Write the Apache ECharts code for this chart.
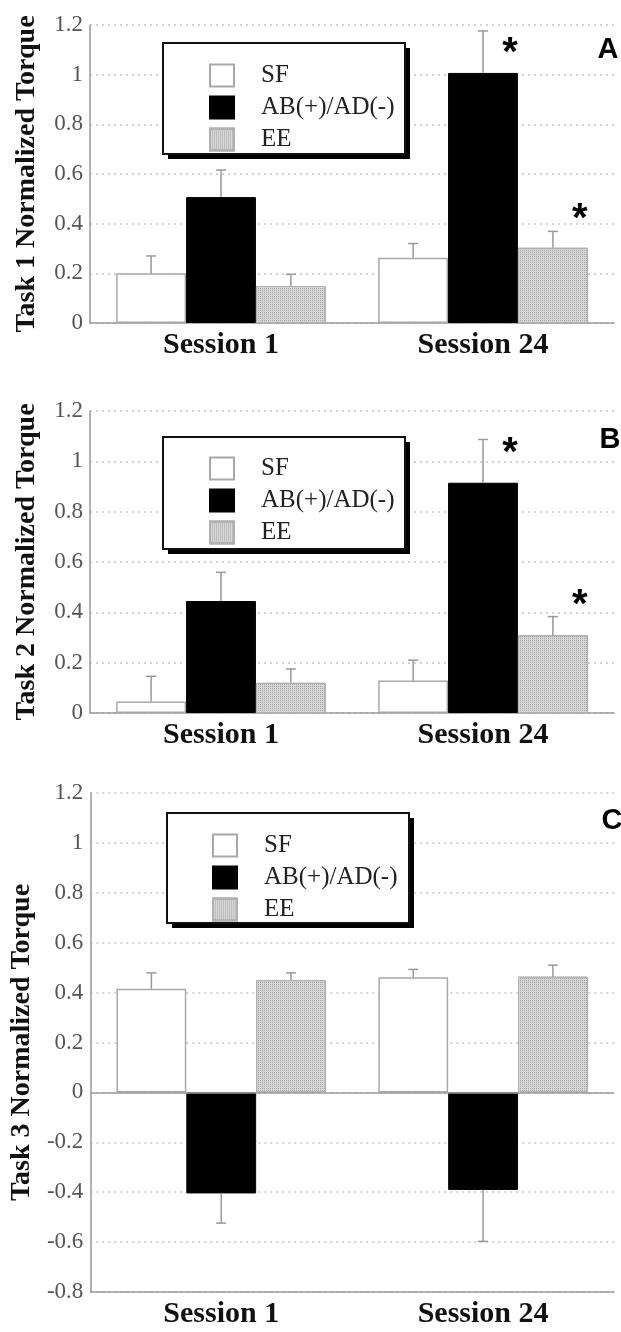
<!DOCTYPE html>
<html>
<head>
<meta charset="utf-8">
<script src="https://cdn.jsdelivr.net/npm/echarts@6/dist/echarts.min.js"></script>
<style>html,body{margin:0;padding:0;background:#fff}#chart{width:621px;height:1332px}</style>
</head>
<body>
<div id="chart"></div>
<script>
// ---------- data ----------
const categories = ['Session 1', 'Session 24'];
const seriesNames = ['SF', 'AB(+)/AD(-)', 'EE'];
const panelLetters = ['A', 'B', 'C'];
const axisTitles = ['Task 1 Normalized Torque', 'Task 2 Normalized Torque', 'Task 3 Normalized Torque'];

const task1SF = [0.20, 0.263];
const task1AB = [0.507, 1.007];
const task1EE = [0.149, 0.303];
const task1SFErr = [0.07, 0.057];
const task1ABErr = [0.109, 0.169];
const task1EEErr = [0.047, 0.066];
const task1Stars = [[1, 1, 1.12], [1, 2, 0.452]]; // [category, group, value]

const task2SF = [0.046, 0.129];
const task2AB = [0.445, 0.915];
const task2EE = [0.12, 0.309];
const task2SFErr = [0.10, 0.081];
const task2ABErr = [0.114, 0.172];
const task2EEErr = [0.055, 0.074];
const task2Stars = [[1, 1, 1.065], [1, 2, 0.461]];

const task3SF = [0.415, 0.462];
const task3AB = [-0.405, -0.391];
const task3EE = [0.45, 0.464];
const task3SFErr = [0.064, 0.031];
const task3ABErr = [0.119, 0.206];
const task3EEErr = [0.029, 0.046];
const task3Stars = [];

const yMin = [0, 0, -0.8];
const yMax = [1.2, 1.2, 1.2];
const yStep = 0.2;

// ---------- layout / style ----------
const panels = [
  {vals: [task1SF, task1AB, task1EE], errs: [task1SFErr, task1ABErr, task1EEErr], stars: task1Stars,
   top: 25, height: 298, legendBox: [163, 43, 242, 111], legendPos: [204, 58], letter: [608, 50]},
  {vals: [task2SF, task2AB, task2EE], errs: [task2SFErr, task2ABErr, task2EEErr], stars: task2Stars,
   top: 411, height: 302, legendBox: [163, 437, 242, 112], legendPos: [204, 451], letter: [610, 440]},
  {vals: [task3SF, task3AB, task3EE], errs: [task3SFErr, task3ABErr, task3EEErr], stars: task3Stars,
   top: 793, height: 499, legendBox: [167, 813, 242, 110], legendPos: [207, 828], letter: [612, 821]}
];

const SERIF = '"Liberation Serif", "DejaVu Serif", serif';
const SANS = '"Liberation Sans", Arial, sans-serif';
const GREY = '#9a9a9a';
const styles = [
  {color: '#ffffff', borderColor: '#a8a8a8', borderWidth: 1.5},
  {color: '#000000', borderColor: '#000000', borderWidth: 1},
  {color: '#d6d6d6', borderColor: '#b0b0b0', borderWidth: 1,
   decal: {symbol: 'rect', symbolSize: 1, color: 'rgba(0,0,0,0.22)', dashArrayX: [1, 1], dashArrayY: [1, 1]}}
];
const CAT_GAP = 0.2;

const grid = [], xAxis = [], yAxis = [], series = [], legend = [], graphic = [];

panels.forEach((p, i) => {
  grid.push({left: 90, right: 7, top: p.top, height: p.height});
  xAxis.push({
    type: 'category', gridIndex: i, data: categories,
    axisLine: {onZero: false, lineStyle: {color: GREY, width: 1.5}},
    axisTick: {show: false},
    axisLabel: {fontFamily: SERIF, fontWeight: 'bold', fontSize: 30, color: '#111', margin: 7},
    splitLine: {show: false}
  });
  yAxis.push({
    type: 'value', gridIndex: i, min: yMin[i], max: yMax[i], interval: yStep,
    name: axisTitles[i], nameLocation: 'middle', nameRotate: 90, nameGap: 49,
    nameTextStyle: {fontFamily: SERIF, fontWeight: 'bold', fontSize: 28, color: '#111'},
    axisLine: {show: true, lineStyle: {color: GREY, width: 1.5}},
    axisTick: {show: false},
    axisLabel: {fontFamily: SERIF, fontSize: 23, color: '#555', margin: 7},
    splitLine: {show: true, lineStyle: {color: '#c4c4c4', type: [2, 4], width: 1.5}}
  });
  seriesNames.forEach((name, s) => {
    const ser = {
      type: 'bar', name: name, xAxisIndex: i, yAxisIndex: i,
      data: p.vals[s], barGap: '0%', barCategoryGap: (CAT_GAP * 100) + '%',
      itemStyle: styles[s], emphasis: {disabled: true}, animation: false, z: 2
    };
    if (i === 2 && s === 0) {
      ser.markLine = {silent: true, symbol: 'none', label: {show: false},
        lineStyle: {color: GREY, type: 'solid', width: 1.5}, data: [{yAxis: 0}], animation: false};
    }
    series.push(ser);
  });
  // error bars
  const errData = [];
  p.vals.forEach((arr, s) => arr.forEach((v, c) => errData.push([c, s, v, p.errs[s][c]])));
  series.push({
    type: 'custom', xAxisIndex: i, yAxisIndex: i, z: 4, animation: false, silent: true,
    data: errData,
    renderItem: function (params, api) {
      const c = api.value(0), s = api.value(1), v = api.value(2), e = api.value(3);
      const band = api.size([1, 0])[0];
      const bw = band * (1 - CAT_GAP) / 3;
      const base = api.coord([c, v]);
      const x = base[0] + (s - 1) * bw;
      const end = api.coord([c, v + (v >= 0 ? e : -e)])[1];
      const st = {stroke: GREY, lineWidth: 1.5};
      return {type: 'group', children: [
        {type: 'line', shape: {x1: x, y1: base[1], x2: x, y2: end}, style: st},
        {type: 'line', shape: {x1: x - 5, y1: end, x2: x + 5, y2: end}, style: st}
      ]};
    }
  });
  // significance stars
  series.push({
    type: 'custom', xAxisIndex: i, yAxisIndex: i, z: 5, animation: false, silent: true,
    data: p.stars,
    renderItem: function (params, api) {
      const c = api.value(0), s = api.value(1), v = api.value(2);
      const band = api.size([1, 0])[0];
      const bw = band * (1 - CAT_GAP) / 3;
      const pt = api.coord([c, v]);
      return {type: 'text', x: pt[0] + (s - 1) * bw + 27, y: pt[1] + 9,
        style: {text: '*', fill: '#000', font: 'bold 40px ' + SANS, align: 'center', verticalAlign: 'middle'}};
    }
  });
  legend.push({
    data: seriesNames, orient: 'vertical', left: p.legendPos[0], top: p.legendPos[1],
    icon: 'rect', itemWidth: 24, itemHeight: 22, itemGap: 7, selectedMode: false, z: 10,
    textStyle: {fontFamily: SERIF, fontSize: 25, color: '#222', padding: [0, 0, 0, 22]}
  });
  const b = p.legendBox;
  graphic.push({type: 'rect', z: 8, shape: {x: b[0] + 5, y: b[1] + 5, width: b[2], height: b[3]}, style: {fill: '#000'}});
  graphic.push({type: 'rect', z: 9, shape: {x: b[0], y: b[1], width: b[2], height: b[3]}, style: {fill: '#fff', stroke: '#111', lineWidth: 2}});
  graphic.push({type: 'text', z: 9, x: p.letter[0], y: p.letter[1],
    style: {text: panelLetters[i], font: 'bold 29px ' + SANS, fill: '#000', align: 'center', verticalAlign: 'middle'}});
});

const chart = echarts.init(document.getElementById('chart'), null, {renderer: 'canvas'});
chart.setOption({animation: false, backgroundColor: '#fff', grid, xAxis, yAxis, series, legend, graphic});
</script>
</body>
</html>
